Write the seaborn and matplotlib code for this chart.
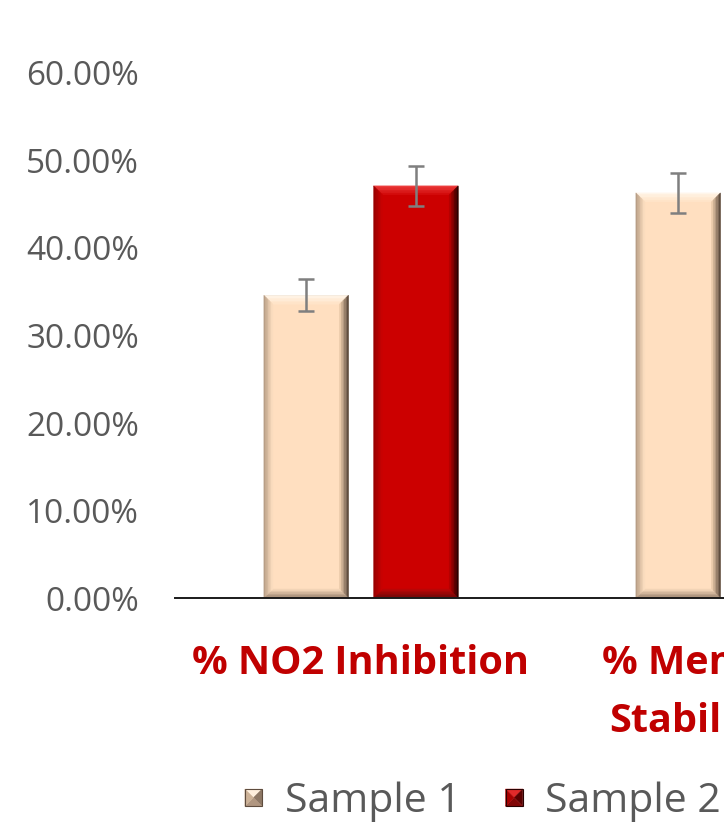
import matplotlib
matplotlib.use("Agg")
import matplotlib.pyplot as plt
from matplotlib.patches import Polygon, Rectangle
from matplotlib.legend_handler import HandlerBase
from matplotlib.colors import to_rgb
from matplotlib.ticker import PercentFormatter, MultipleLocator
import seaborn as sns
import pandas as pd
import numpy as np

# Assay results for the two samples (fractions), with standard deviations
assays = ["% NO2 Inhibition", "% Membrane\nStabilization"]
samples = ["Sample 1", "Sample 2"]
sample1_values = [0.346, 0.463]
sample2_values = [0.471, 0.515]
sample1_err = [0.018, 0.023]
sample2_err = [0.023, 0.022]

face_colors = ["#FFDFC0", "#CC0000"]
# bevel shades per side: (outer edge colour, inner colour)
bevel_shades = [
    {"top": ("#FFF6EA", "#FFE4C8"), "right": ("#5E4C3E", "#EACAAA"),
     "bottom": ("#9C8470", "#F2D4B6"), "left": ("#B89E86", "#FADCBE")},
    {"top": ("#EC3C3C", "#D40C0C"), "right": ("#2A0000", "#B40000"),
     "bottom": ("#6E0808", "#B80606"), "left": ("#9A0000", "#C80202")},
]

df = pd.DataFrame({
    "Assay": assays * 2,
    "Sample": [samples[0]] * 2 + [samples[1]] * 2,
    "Value": sample1_values + sample2_values,
})
errs = [sample1_err, sample2_err]

sns.set_theme(style="white")
plt.rcParams["font.family"] = ["Open Sans", "DejaVu Sans"]

fig = plt.figure(figsize=(7.24, 8.22), dpi=100)
ax = fig.add_axes([175 / 724, 224 / 822, 744 / 724, 525 / 822])

sns.barplot(data=df, x="Assay", y="Value", hue="Sample", order=assays,
            hue_order=samples, palette=face_colors, saturation=1,
            errorbar=None, width=0.59, gap=0.23, legend=False, ax=ax,
            edgecolor="#A09488", linewidth=0.5)

ax.set_ylim(0, 0.6)
ax.set_xlim(-0.5, 1.5)
ax.yaxis.set_major_locator(MultipleLocator(0.1))
ax.yaxis.set_major_formatter(PercentFormatter(xmax=1, decimals=2))


def mix(c1, c2, t):
    a, b = np.array(to_rgb(c1)), np.array(to_rgb(c2))
    return tuple(a + (b - a) * t)


def bevel_rings(x0, y0, x1, y1, bx, by, shades, n=6):
    """Yield (polygon points, colour) for graded bevel rings of a rectangle."""
    for k in range(n):
        d0, d1 = k / n, (k + 1) / n
        t = k / (n - 1)
        ax0, ay0 = bx * d0, by * d0
        ax1, ay1 = bx * d1, by * d1
        yield ([(x0 + ax0, y1 - ay0), (x1 - ax0, y1 - ay0),
                (x1 - ax1, y1 - ay1), (x0 + ax1, y1 - ay1)], mix(*shades["top"], t))
        yield ([(x1 - ax0, y1 - ay0), (x1 - ax0, y0 + ay0),
                (x1 - ax1, y0 + ay1), (x1 - ax1, y1 - ay1)], mix(*shades["right"], t))
        yield ([(x0 + ax0, y0 + ay0), (x1 - ax0, y0 + ay0),
                (x1 - ax1, y0 + ay1), (x0 + ax1, y0 + ay1)], mix(*shades["bottom"], t))
        yield ([(x0 + ax0, y0 + ay0), (x0 + ax0, y1 - ay0),
                (x0 + ax1, y1 - ay1), (x0 + ax1, y0 + ay1)], mix(*shades["left"], t))


# Bevel shading on every bar, sized in screen pixels
fig.canvas.draw()
px_to_x = 1.0 / (ax.transData.transform((1, 0))[0] - ax.transData.transform((0, 0))[0])
px_to_y = 1.0 / (ax.transData.transform((0, 1))[1] - ax.transData.transform((0, 0))[1])
bev = 9
bx, by = bev * px_to_x, bev * px_to_y

bar_containers = list(ax.containers)
for i, container in enumerate(bar_containers):
    for j, bar in enumerate(container.patches):
        x0 = bar.get_x()
        x1 = x0 + bar.get_width()
        y0 = bar.get_y()
        y1 = y0 + bar.get_height()
        for pts, col in bevel_rings(x0, y0, x1, y1, bx, by, bevel_shades[i]):
            ax.add_patch(Polygon(pts, closed=True, facecolor=col, edgecolor=col,
                                 linewidth=0.3, zorder=bar.get_zorder() + 0.1))
        ax.errorbar(x0 + bar.get_width() / 2, y1, yerr=errs[i][j], fmt="none",
                    ecolor="#7F7F7F", elinewidth=1.8, capsize=5.5, capthick=1.8,
                    zorder=bar.get_zorder() + 1)

ax.set_xlabel("")
ax.set_ylabel("")
for side in ["top", "right", "left"]:
    ax.spines[side].set_visible(False)
ax.spines["bottom"].set_color("#1A1A1A")
ax.spines["bottom"].set_linewidth(1.4)
ax.spines["bottom"].set_zorder(5)
ax.grid(False)

ax.tick_params(axis="y", length=0, pad=26, labelsize=24, labelcolor="#595959")
ax.tick_params(axis="x", length=0, pad=33, labelsize=28.5, labelcolor="#C00000")
for lbl in ax.get_xticklabels():
    lbl.set_fontweight("bold")
    lbl.set_linespacing(1.65)


class BevelSquareHandler(HandlerBase):
    """Legend key drawn as a small pyramid-shaded square."""

    def __init__(self, face, shades):
        super().__init__()
        self.face = face
        self.shades = shades

    def create_artists(self, legend, orig_handle, xdescent, ydescent, width,
                       height, fontsize, trans):
        s = min(width, height)
        x0, y0 = -xdescent + (width - s) / 2, -ydescent + (height - s) / 2
        x1, y1 = x0 + s, y0 + s
        cx, cy = (x0 + x1) / 2, (y0 + y1) / 2
        tris = [
            ([(x0, y1), (x1, y1), (cx, cy)], mix(self.shades["top"][0], self.face, 0.3)),
            ([(x1, y1), (x1, y0), (cx, cy)], mix(self.shades["right"][0], self.face, 0.3)),
            ([(x0, y0), (x1, y0), (cx, cy)], mix(self.shades["bottom"][0], self.face, 0.2)),
            ([(x0, y0), (x0, y1), (cx, cy)], mix(self.shades["left"][0], self.face, 0.3)),
        ]
        arts = []
        for pts, col in tris:
            p = Polygon(pts, closed=True, facecolor=col, edgecolor=col,
                        linewidth=0.3, transform=trans)
            arts.append(p)
        arts.append(Rectangle((x0, y0), s, s, facecolor="none",
                              edgecolor=self.shades["right"][0], linewidth=0.8,
                              transform=trans))
        return arts


handles = [Rectangle((0, 0), 1, 1, facecolor=face_colors[k]) for k in range(2)]
handler_map = {handles[k]: BevelSquareHandler(face_colors[k], bevel_shades[k])
               for k in range(2)}
fig.legend(handles, samples, handler_map=handler_map, loc="center left",
           bbox_to_anchor=(208 / 724, 20 / 822), ncol=2, frameon=False,
           fontsize=29.5, labelcolor="#595959", handlelength=0.42,
           handleheight=0.42, handletextpad=0.55, columnspacing=1.1)

fig.savefig("out.png", dpi=100)
